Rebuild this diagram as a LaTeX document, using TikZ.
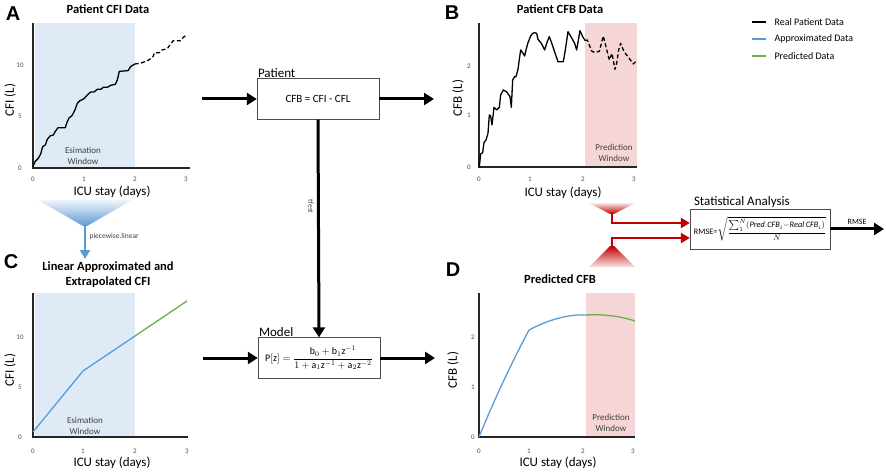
\documentclass[tikz,border=0pt]{standalone}
\usepackage{fontspec}
\setmainfont{Carlito}
\newfontfamily\letterfont{Liberation Sans}
\usetikzlibrary{arrows.meta}
\definecolor{apxblue}{HTML}{5B9BD5}
\definecolor{prdgreen}{HTML}{70AD47}
\definecolor{estblue}{HTML}{DEEAF6}
\definecolor{prdpink}{HTML}{F5D5D6}
\definecolor{rmsered}{HTML}{C00000}
\begin{document}
\begin{tikzpicture}[x=1pt,y=-1pt]
	\tikzstyle{panel}=[font=\letterfont\bfseries\fontsize{20}{20}\selectfont]
	\tikzstyle{ptitle}=[font=\bfseries\fontsize{12.5}{15}\selectfont, align=center]
	\tikzstyle{axis}=[line width=1.3pt, draw=black!85]
	\tikzstyle{tick}=[font=\fontsize{7}{8}\selectfont, text=black!70]
	\tikzstyle{alabel}=[font=\fontsize{13}{15}\selectfont]
	\tikzstyle{window}=[font=\fontsize{9}{10.5}\selectfont, align=center, text=black!75]
	\tikzstyle{block}=[draw=black!70, fill=white, minimum width=122pt, minimum height=41pt, inner sep=2pt]
	\tikzstyle{blocklbl}=[font=\fontsize{13}{15}\selectfont, anchor=south west, inner sep=1pt]
	\tikzstyle{flow}=[draw, line width=3pt, -{Triangle[length=10pt,width=12pt]}]
	\tikzstyle{redflow}=[draw=rmsered, line width=2.5pt, -{Triangle[length=9pt,width=10pt]}]
	\tikzstyle{real}=[line width=1.3pt, line join=round]
	\tikzstyle{realdash}=[real, dash pattern=on 4pt off 2.5pt]
	\tikzstyle{fit}=[line width=1.3pt]
	\useasboundingbox (0,0) rectangle (886,473);

	\begin{scope}
		\fill[estblue] (35,23) rectangle (135,167);
		\draw[axis] (33,23) -- (33,168) -- (190,168);
		\node[panel] (pA) at (13,14) {A};
		\node[ptitle] (tA) at (108,9) {Patient CFI Data};
		\node[window] (winA) at (83,156) {Esimation\\Window};
		\node[alabel] (xA) at (112,192) {ICU stay (days)};
		\node[alabel, rotate=90] (yA) at (10,100) {CFI (L)};
		\foreach \v/\y in {0/168,5/116,10/65} \node[tick] (ay\v) at (20,\y) {\v};
		\foreach \v/\x in {0/33,1/84,2/135,3/186} \node[tick] (ax\v) at (\x,179) {\v};
	\end{scope}
	\begin{scope}[x=0.3333pt, y=-0.3333pt]
		\draw[real] plot coordinates {(99,500) (105,485) (115,475) (122,462) (128,440) (136,435) (142,418) (150,408) (160,405) (166,394) (174,383) (196,383) (200,370) (207,354) (216,347) (224,332) (232,310) (240,302) (252,296) (262,285) (272,276) (282,276) (292,268) (302,268) (310,262) (322,262) (332,256) (346,253) (352,240) (358,214) (384,212) (392,200) (404,192)};
		\draw[realdash] plot coordinates {(404,192) (420,190) (432,186) (446,180) (458,172) (464,158) (478,158) (486,150) (494,148) (502,146) (512,132) (520,122) (542,122) (550,112) (558,106)};
	\end{scope}

	\begin{scope}
		\fill[prdpink] (585,23) rectangle (637,167);
		\draw[axis] (479,23) -- (479,167) -- (637,167);
		\node[panel] (pB) at (452,13) {B};
		\node[ptitle] (tB) at (560,9) {Patient CFB Data};
		\node[window] (winB) at (614,153) {Prediction\\Window};
		\node[alabel] (xB) at (563,193) {ICU stay (days)};
		\node[alabel, rotate=90] (yB) at (458,98) {CFB (L)};
		\foreach \v/\y in {0/167,1/115,2/66} \node[tick] (by\v) at (469,\y) {\v};
		\foreach \v/\x in {0/479,1/530,2/583,3/634} \node[tick] (bx\v) at (\x,179) {\v};
	\end{scope}
	\begin{scope}[shift={(400,0)}, x=0.3333pt, y=-0.3333pt]
		\draw[real] plot coordinates {(238,500) (242,462) (248,458) (252,428) (258,420) (264,400) (268,345) (272,348) (276,375) (282,322) (290,330) (298,322) (302,285) (310,270) (320,276) (330,290) (334,322) (338,240) (344,230) (348,230) (354,208) (358,178) (362,150) (368,158) (374,168) (378,150) (384,128) (392,108) (398,100) (404,98) (410,100) (414,118) (424,130) (434,150) (440,130) (448,110) (454,126) (462,150) (474,185) (490,185) (496,150) (504,95) (514,112) (524,130) (530,150) (540,92) (548,110) (556,122)};
		\draw[realdash] plot coordinates {(556,122) (562,120) (568,135) (575,153) (585,158) (598,154) (610,108) (618,140) (628,180) (636,160) (645,208) (650,190) (656,150) (662,130) (672,155) (684,170) (700,192) (712,180)};
	\end{scope}

	\foreach \c/\y/\t in {black/22/Real Patient Data, apxblue/39/Approximated Data, prdgreen/56/Predicted Data} {
		\draw[fit, \c] (752,\y) -- (766,\y);
		\node[anchor=west, font=\fontsize{10}{12}\selectfont] (lg\y) at (771,\y) {\t};
	}

	\shade[top color=estblue!50, bottom color=apxblue] (38,200) -- (132,200) -- (87,226) -- (83,226) -- cycle;
	\coordinate (funnelA) at (85,225);
	\coordinate (tipC) at (85,259);
	\path[draw=apxblue, line width=2.5pt, -{Triangle[length=9pt,width=10pt]}] (funnelA) -- node[pos=0.35, right, font=\fontsize{7.5}{8}\selectfont, text=black!75] (pwlin) {piecewise.linear} (tipC);

	\begin{scope}
		\fill[estblue] (35,293) rectangle (135,436);
		\draw[axis] (33,293) -- (33,437) -- (188,437);
		\node[panel] (pC) at (11,262) {C};
		\node[ptitle] (tC) at (108,275) {Linear Approximated and\\Extrapolated CFI};
		\node[window] (winC) at (85,426) {Esimation\\Window};
		\node[alabel] (xC) at (112,463) {ICU stay (days)};
		\node[alabel, rotate=90] (yC) at (10,370) {CFI (L)};
		\foreach \v/\y in {0/437,5/387,10/337} \node[tick] (cy\v) at (20,\y) {\v};
		\foreach \v/\x in {0/33,1/83,2/135,3/187} \node[tick] (cx\v) at (\x,451) {\v};
		\draw[fit, apxblue] (33,432) -- (83,371) -- (135,336);
		\draw[fit, prdgreen] (135,336) -- (187,301);
	\end{scope}

	\begin{scope}
		\fill[prdpink] (586,293) rectangle (635,437);
		\draw[axis] (479,293) -- (479,437) -- (635,437);
		\node[panel] (pD) at (453,270) {D};
		\node[ptitle] (tD) at (560,279) {Predicted CFB};
		\node[window] (winD) at (611,423) {Prediction\\Window};
		\node[alabel] (xD) at (558,463) {ICU stay (days)};
		\node[alabel, rotate=90] (yD) at (453,370) {CFB (L)};
		\foreach \v/\y in {0/437,1/387,2/337} \node[tick] (dy\v) at (473,\y) {\v};
		\foreach \v/\x in {0/479,1/529,2/583,3/633} \node[tick] (dx\v) at (\x,451) {\v};
		\draw[fit, apxblue] (479,437) .. controls (495,398) and (512,362) .. (529,330) .. controls (548,320) and (568,314) .. (586,315);
		\draw[fit, prdgreen] (586,315) .. controls (602,314) and (620,316) .. (635,321);
	\end{scope}

	\node[block, font=\fontsize{11}{13}\selectfont] (patient) at (318,99) {CFB = CFI - CFL};
	\node[blocklbl] (patientlbl) at (patient.north west) {Patient};
	\node[block, font=\fontsize{10}{12}\selectfont] (model) at (319,358) {$\displaystyle\mathrm{P[z]}=\frac{\mathrm{b}_0+\mathrm{b}_1\mathrm{z}^{-1}}{1+\mathrm{a}_1\mathrm{z}^{-1}+\mathrm{a}_2\mathrm{z}^{-2}}$};
	\node[blocklbl] (modellbl) at (model.north west) {Model};
	\node[block, minimum width=140pt, minimum height=40pt, inner sep=1pt, font=\fontsize{8.3}{10}\selectfont] (stats) at (760,229) {RMSE=$\displaystyle\sqrt{\frac{\sum_1^N(\mathit{Pred.CFB}_i{-}\mathit{Real\,CFB}_i)}{N}}$};
	\node[blocklbl, xshift=3pt] (statslbl) at (stats.north west) {Statistical Analysis};

	\coordinate (inA) at (202,99);
	\coordinate (outB) at (434,99);
	\coordinate (inC) at (203,358);
	\coordinate (outD) at (435,358);
	\coordinate (rmseout) at (884,229);
	\path[flow] (inA) -- (patient.west);
	\path[flow] (patient.east) -- (outB);
	\path[flow] (patient.south) -- node[pos=0.4, rotate=-90, anchor=north, font=\fontsize{7.5}{8}\selectfont, text=black!75] (tfest) {tfest} (model.north);
	\path[flow] (inC) -- (model.west);
	\path[flow] (model.east) -- (outD);
	\path[flow] (stats.east) -- node[above, font=\fontsize{8}{9}\selectfont] (rmselbl) {RMSE} (rmseout);

	\shade[top color=rmsered!10, bottom color=rmsered] (589,203) -- (635,203) -- (614,214) -- (610,214) -- cycle;
	\shade[top color=rmsered, bottom color=rmsered!10] (610,246) -- (614,246) -- (635,267) -- (589,267) -- cycle;
	\coordinate (tipB) at (612,213);
	\coordinate (tipD) at (612,247);
	\path[redflow] (tipB) |- ([yshift=6pt]stats.west);
	\path[redflow] (tipD) |- ([yshift=-9pt]stats.west);
\end{tikzpicture}
\end{document}
